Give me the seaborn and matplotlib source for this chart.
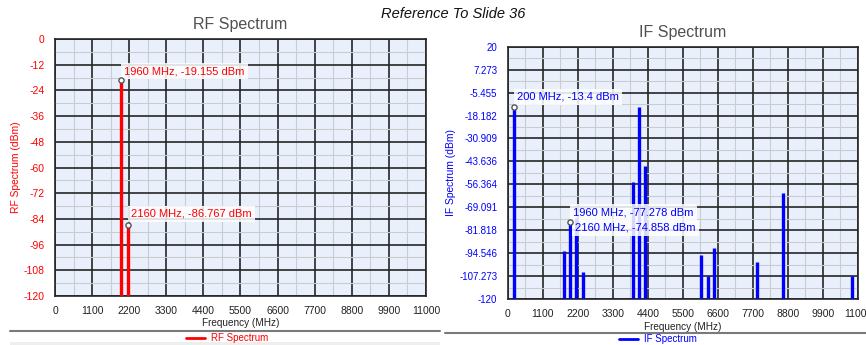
import matplotlib
matplotlib.use("Agg")
import matplotlib.pyplot as plt
from matplotlib.lines import Line2D
from matplotlib.patches import Rectangle
from matplotlib.ticker import MultipleLocator, FixedLocator
import pandas as pd
import seaborn as sns

# ---- data ---------------------------------------------------------------
rf_freq = [1960, 2160]
rf_power = [-19.155, -86.767]

if_freq = [200, 1760, 1960, 2160, 2360, 3920, 4120, 4320,
           6080, 6280, 6480, 7840, 8640, 10800]
if_power = [-13.4, -93.6, -77.278, -74.858, -105.2, -54.8, -13.7, -46.0,
            -95.4, -107.3, -91.9, -99.3, -61.4, -107.3]

freq_ticks = [0, 1100, 2200, 3300, 4400, 5500, 6600, 7700, 8800, 9900, 11000]
rf_ticks = [0, -12, -24, -36, -48, -60, -72, -84, -96, -108, -120]
if_tick_labels = ["20", "7.273", "-5.455", "-18.182", "-30.909", "-43.636",
                  "-56.364", "-69.091", "-81.818", "-94.546", "-107.273", "-120"]

# markers with value callouts: (freq, power, label, dx px, dy px, dot)
rf_marks = [(1960, -19.155, "1960 MHz, -19.155 dBm", 3, 9, True),
            (2160, -86.767, "2160 MHz, -86.767 dBm", 3, 11, True)]
if_marks = [(200, -13.4, "200 MHz, -13.4 dBm", 3, 10, True),
            (1960, -77.278, "1960 MHz, -77.278 dBm", 3, 10, True),
            (2160, -74.858, "2160 MHz, -74.858 dBm", -1, -10, False)]

# ---- style --------------------------------------------------------------
sns.set_theme(style="white")
plt.rcParams["font.family"] = ["Liberation Sans", "DejaVu Sans"]

RED = "#ff0000"
BLUE = "#0000ff"
PANEL_BG = "#eaf0fb"
MAJOR = "#262626"
MINOR = "#c9ccd2"

W, H = 866, 345
fig = plt.figure(figsize=(W / 100, H / 100), dpi=100)
fig.patch.set_facecolor("white")


def px_rect(x0, y0, x1, y1):
    return [x0 / W, 1 - y1 / H, (x1 - x0) / W, (y1 - y0) / H]


def draw_panel(ax, freq, power, color, ylo, yhi, yticks, ytick_labels,
               yminor, title, ylabel, marks, tick_fs):
    ax.set_facecolor(PANEL_BG)
    stems = pd.DataFrame({
        "freq": [f for f in freq for _ in range(2)],
        "dBm": [v for p in power for v in (ylo, p)],
    })
    sns.lineplot(data=stems, x="freq", y="dBm", units="freq", estimator=None,
                 sort=False, color=color, lw=2.4, ax=ax, legend=False,
                 solid_capstyle="butt", zorder=3)
    ax.set_xlim(0, 11000)
    ax.set_ylim(ylo, yhi)
    ax.xaxis.set_major_locator(FixedLocator(freq_ticks))
    ax.xaxis.set_minor_locator(MultipleLocator(550))
    ax.set_xticklabels([str(t) for t in freq_ticks])
    ax.yaxis.set_major_locator(FixedLocator(yticks))
    ax.yaxis.set_minor_locator(FixedLocator(yminor))
    ax.set_yticklabels(ytick_labels)
    ax.grid(which="minor", color=MINOR, lw=0.8, zorder=0)
    ax.grid(which="major", color=MAJOR, lw=1.2, zorder=1)
    ax.set_axisbelow(True)
    for s in ax.spines.values():
        s.set_color(MAJOR)
        s.set_linewidth(1.2)
    ax.tick_params(axis="both", which="major", direction="out", length=3.5,
                   width=1.0, color=MAJOR, pad=4)
    ax.tick_params(axis="both", which="minor", length=0)
    ax.tick_params(axis="x", labelsize=7.5, labelcolor="#222222", pad=3.5)
    ax.tick_params(axis="y", labelsize=tick_fs, labelcolor=color)
    ax.set_title(title, fontsize=11.5, color="#505050", pad=7)

    for f, p, txt, dx, dy, show_dot in marks:
        ax.annotate(txt, xy=(f, p), xytext=(dx, dy), textcoords="offset pixels",
                    ha="left", va="center", fontsize=8, color=color, zorder=6,
                    bbox=dict(boxstyle="square,pad=0.28", fc="white",
                              ec="none", alpha=0.85))
    dots = pd.DataFrame([(f, p) for f, p, _, _, _, d in marks if d],
                        columns=["freq", "dBm"])
    sns.scatterplot(data=dots, x="freq", y="dBm", marker="o", s=14,
                    facecolor="white", edgecolor="#555555", linewidth=1.0,
                    ax=ax, zorder=7, legend=False)
    ax.set_xlabel("Frequency (MHz)", fontsize=7.2, color="#222222", labelpad=2)
    ax.set_ylabel(ylabel, fontsize=7.4, color=color, labelpad=2)


# RF panel
ax1 = fig.add_axes(px_rect(55, 39, 426, 296))
draw_panel(ax1, rf_freq, rf_power, RED, -120, 0, rf_ticks,
           [str(t) for t in rf_ticks], [-6 - 12 * k for k in range(10)],
           "RF Spectrum", "RF Spectrum (dBm)", rf_marks, 7.5)

# IF panel
if_vals = [float(s) for s in if_tick_labels]
if_minor = [(a + b) / 2 for a, b in zip(if_vals[:-1], if_vals[1:])]
ax2 = fig.add_axes(px_rect(507.7, 46.7, 858, 299))
draw_panel(ax2, if_freq, if_power, BLUE, -120, 20, if_vals, if_tick_labels,
           if_minor, "IF Spectrum", "IF Spectrum (dBm)", if_marks, 7)

# separators and legends below each panel
for x0, x1, y in [(10, 440, 331), (445, 866, 333)]:
    fig.add_artist(Line2D([x0 / W, x1 / W], [1 - y / H] * 2,
                          color="#7a7a7a", lw=1.5))
fig.add_artist(Rectangle((10 / W, 0), 430 / W, 3 / H, color="#eeeeee", lw=0))

fig.legend(handles=[Line2D([0], [0], color=RED, lw=2)], labels=["RF Spectrum"],
           loc="center", bbox_to_anchor=(227 / W, 1 - 338 / H), frameon=False,
           fontsize=7, labelcolor=RED, handlelength=2.0, handletextpad=0.6,
           borderpad=0, borderaxespad=0)
fig.legend(handles=[Line2D([0], [0], color=BLUE, lw=2)], labels=["IF Spectrum"],
           loc="center", bbox_to_anchor=(658 / W, 1 - 339 / H), frameon=False,
           fontsize=7, labelcolor=BLUE, handlelength=2.0, handletextpad=0.6,
           borderpad=0, borderaxespad=0)

fig.text(453 / W, 1 - 14 / H, "Reference To Slide 36", ha="center",
         va="center", fontsize=10.5, style="italic", color="#111111")

fig.savefig("out.png", dpi=100)
